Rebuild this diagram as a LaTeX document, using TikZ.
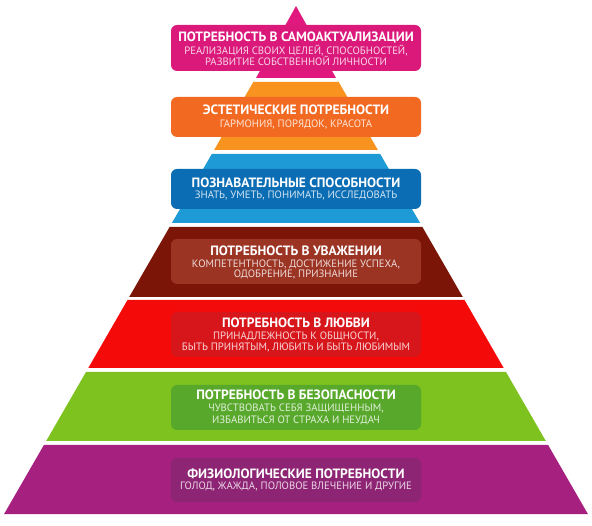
\documentclass[tikz,border=0pt]{standalone}
\usepackage{fontspec}
\setmainfont{PT Sans}
\newfontfamily\tfont{PT Sans}
\definecolor{cPinkB}{HTML}{E1187E}
\definecolor{cPinkP}{HTML}{DA197B}
\definecolor{cOrB}{HTML}{F7931E}
\definecolor{cOrP}{HTML}{F26A21}
\definecolor{cBlB}{HTML}{1E9BD7}
\definecolor{cBlP}{HTML}{0B6DB4}
\definecolor{cDrB}{HTML}{7B1507}
\definecolor{cDrP}{HTML}{9C3424}
\definecolor{cRdB}{HTML}{F50A0A}
\definecolor{cRdP}{HTML}{D7161C}
\definecolor{cGrB}{HTML}{7DC21E}
\definecolor{cGrP}{HTML}{58A82C}
\definecolor{cPuB}{HTML}{A5207F}
\definecolor{cPuP}{HTML}{8D2474}
\begin{document}
\begin{tikzpicture}[x=1pt,y=-1pt,
  panel/.style={fill=#1, rounded corners=6pt, minimum width=250pt, inner sep=0pt},
  ttl/.style={text=white, anchor=base, inner sep=0pt, font=\tfont\bfseries\fontsize{13.5}{15}\selectfont},
  sub/.style={text=white, text opacity=0.82, anchor=base, inner sep=0pt, font=\tfont\fontsize{10.7}{12}\selectfont}]
\useasboundingbox (0,0) rectangle (592,526);
% pyramid bands
\fill[cPinkB] (296,6) -- (336,78) -- (256,78) -- cycle;
\fill[cOrB] (253.3,82) -- (338.7,82) -- (377.9,150) -- (214.1,150) -- cycle;
\fill[cBlB] (211.8,154) -- (380.2,154) -- (420.1,223) -- (171.9,223) -- cycle;
\fill[cDrB] (169.6,227) -- (422.4,227) -- (462.8,297) -- (129.2,297) -- cycle;
\fill[cRdB] (127.5,300) -- (464.5,300) -- (503.7,368) -- (88.3,368) -- cycle;
\fill[cGrB] (86,372) -- (506,372) -- (545.8,441) -- (46.2,441) -- cycle;
\fill[cPuB] (43.9,445) -- (548.1,445) -- (587.9,514) -- (4.1,514) -- cycle;
% panels
\node[panel=cPinkP, minimum height=46pt] (p1) at (296,48) {};
\node[panel=cOrP, minimum height=40pt] (p2) at (296,117) {};
\node[panel=cBlP, minimum height=40pt] (p3) at (296,189) {};
\node[panel=cDrP, minimum height=45pt] (p4) at (296,261.5) {};
\node[panel=cRdP, minimum height=45pt] (p5) at (296,334.5) {};
\node[panel=cGrP, minimum height=45pt] (p6) at (296,407.5) {};
\node[panel=cPuP, minimum height=44pt] (p7) at (296,480) {};
% texts
\node[ttl] (t1) at (296,41.3) {ПОТРЕБНОСТЬ В САМОАКТУАЛИЗАЦИИ};
\node[sub] (s1a) at (296,54.3) {РЕАЛИЗАЦИЯ СВОИХ ЦЕЛЕЙ, СПОСОБНОСТЕЙ,};
\node[sub] (s1b) at (296,65.2) {РАЗВИТИЕ СОБСТВЕННОЙ ЛИЧНОСТИ};
\node[ttl] (t2) at (296,115) {ЭСТЕТИЧЕСКИЕ ПОТРЕБНОСТИ};
\node[sub] (s2a) at (296,127.7) {ГАРМОНИЯ, ПОРЯДОК, КРАСОТА};
\node[ttl] (t3) at (296,187.3) {ПОЗНАВАТЕЛЬНЫЕ СПОСОБНОСТИ};
\node[sub] (s3a) at (296,199) {ЗНАТЬ, УМЕТЬ, ПОНИМАТЬ, ИССЛЕДОВАТЬ};
\node[ttl] (t4) at (296,256) {ПОТРЕБНОСТЬ В УВАЖЕНИИ};
\node[sub] (s4a) at (296,267.3) {КОМПЕТЕНТНОСТЬ, ДОСТИЖЕНИЕ УСПЕХА,};
\node[sub] (s4b) at (296,277.7) {ОДОБРЕНИЕ, ПРИЗНАНИЕ};
\node[ttl] (t5) at (296,327.7) {ПОТРЕБНОСТЬ В ЛЮБВИ};
\node[sub] (s5a) at (296,339.3) {ПРИНАДЛЕЖНОСТЬ К ОБЩНОСТИ,};
\node[sub] (s5b) at (296,351) {БЫТЬ ПРИНЯТЫМ, ЛЮБИТЬ И БЫТЬ ЛЮБИМЫМ};
\node[ttl] (t6) at (296,400) {ПОТРЕБНОСТЬ В БЕЗОПАСНОСТИ};
\node[sub] (s6a) at (296,411.7) {ЧУВСТВОВАТЬ СЕБЯ ЗАЩИЩЕННЫМ,};
\node[sub] (s6b) at (296,423.5) {ИЗБАВИТЬСЯ ОТ СТРАХА И НЕУДАЧ};
\node[ttl] (t7) at (296,478.3) {ФИЗИОЛОГИЧЕСКИЕ ПОТРЕБНОСТИ};
\node[sub] (s7a) at (296,489.8) {ГОЛОД, ЖАЖДА, ПОЛОВОЕ ВЛЕЧЕНИЕ И ДРУГИЕ};
\end{tikzpicture}
\end{document}
